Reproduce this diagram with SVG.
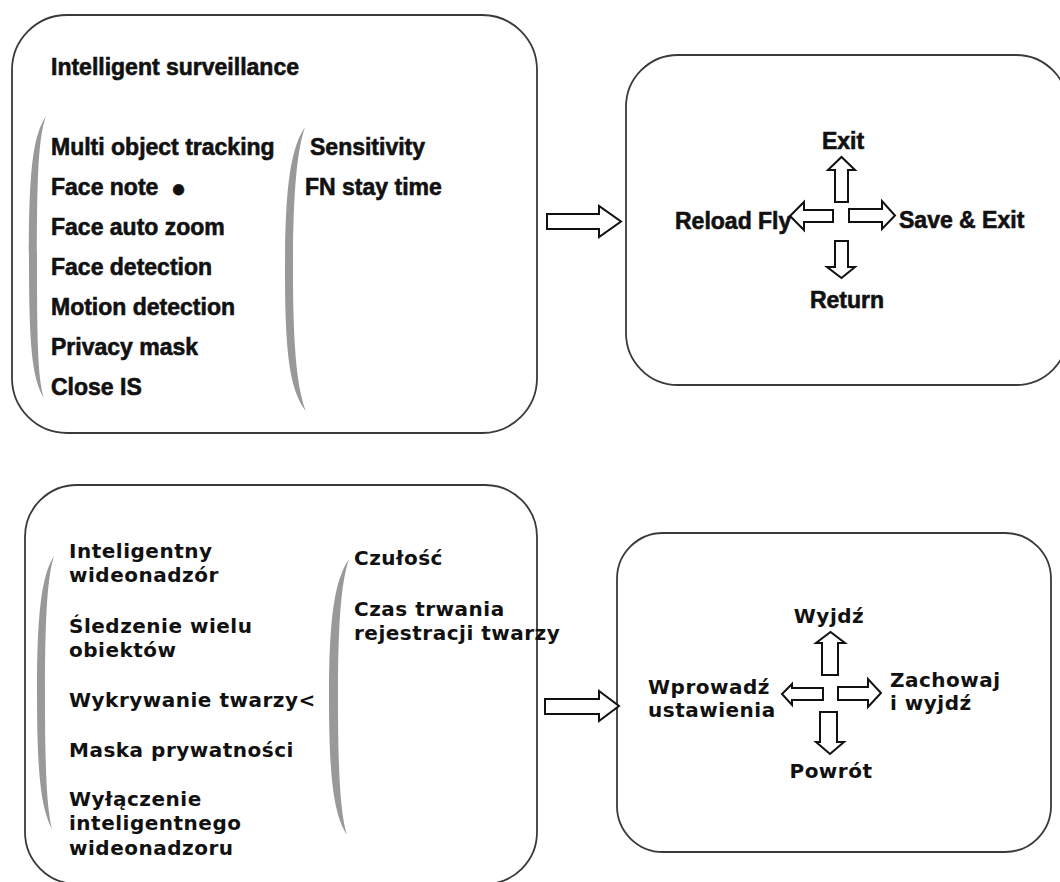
<svg xmlns="http://www.w3.org/2000/svg" width="1060" height="882" viewBox="0 0 1060 882">
  <defs>
    <style>
      .box { fill: #fff; stroke: #3a3a3a; stroke-width: 1.8; }
      .brk { fill: #999; stroke: none; }
      .arr { fill: #fff; stroke: #111; stroke-width: 2; stroke-linejoin: miter; }
      .en { font-family: "Liberation Sans", Arial, sans-serif; font-weight: bold; font-size: 23px; fill: #111; stroke: #111; stroke-width: 0.6px; }
      .pl { font-family: "DejaVu Sans", Verdana, sans-serif; font-weight: bold; font-size: 20px; letter-spacing: 0.5px; fill: #111; }
      .mid { text-anchor: middle; }
    </style>
  </defs>
  <rect width="1060" height="882" fill="#fff"/>

  <g id="node-menu-en">
    <rect class="box" x="12" y="15" width="525" height="418" rx="55" ry="55"/>
    <path class="brk" d="M46,116 C33,136 29,170 29,257 C29,345 32,378 44,398 C38,378 37,345 37,257 C37,170 39,136 46,116 Z"/>
    <path class="brk" d="M305,127 C291,148 285,185 285,269 C285,355 290,390 306,411 C298,390 293,355 293,269 C293,185 298,148 305,127 Z"/>
    <text class="en" x="51" y="75">Intelligent surveillance</text>
    <text class="en" x="51" y="155">Multi object tracking</text>
    <text class="en" x="51" y="195">Face note <tspan x="171" y="197" font-size="25">●</tspan></text>
    <text class="en" x="51" y="235">Face auto zoom</text>
    <text class="en" x="51" y="275">Face detection</text>
    <text class="en" x="51" y="315">Motion detection</text>
    <text class="en" x="51" y="355">Privacy mask</text>
    <text class="en" x="51" y="395">Close IS</text>
    <text class="en" x="310" y="155">Sensitivity</text>
    <text class="en" x="305" y="195">FN stay time</text>
  </g>

  <g id="node-keys-en">
    <rect class="box" x="626" y="55" width="442" height="330" rx="52" ry="52"/>
    <polygon class="arr" points="835,202 835,170 828,170 841.5,157 855,170 848,170 848,202"/>
    <polygon class="arr" points="835,241 835,267 827,267 841.5,278 855,267 848,267 848,241"/>
    <polygon class="arr" points="849,209 882,209 882,201 895,215.5 882,229 882,222 849,222"/>
    <polygon class="arr" points="833,210 804,210 804,202 790,216 804,230 804,222 833,222"/>
    <text class="en mid" x="843" y="149">Exit</text>
    <text class="en" x="675" y="229">Reload Fly</text>
    <text class="en" x="899" y="228">Save &amp; Exit</text>
    <text class="en mid" x="847" y="308">Return</text>
  </g>

  <g id="node-menu-pl">
    <rect class="box" x="25" y="485" width="512" height="399" rx="52" ry="52"/>
    <path class="brk" d="M54,556 C42,575 37,610 37,692 C37,775 41,808 52,829 C47,808 45,775 45,692 C45,610 48,575 54,556 Z"/>
    <path class="brk" d="M349,559 C335,580 329,615 329,697 C329,780 334,815 347,835 C341,815 338,780 338,697 C338,615 342,580 349,559 Z"/>
    <text class="pl" x="69" y="558">Inteligentny</text>
    <text class="pl" x="69" y="582">wideonadzór</text>
    <text class="pl" x="69" y="633">Śledzenie wielu</text>
    <text class="pl" x="69" y="657">obiektów</text>
    <text class="pl" x="69" y="707">Wykrywanie twarzy&lt;</text>
    <text class="pl" x="69" y="757">Maska prywatności</text>
    <text class="pl" x="69" y="806">Wyłączenie</text>
    <text class="pl" x="69" y="830">inteligentnego</text>
    <text class="pl" x="69" y="855">wideonadzoru</text>
    <text class="pl" x="354" y="565">Czułość</text>
    <text class="pl" x="354" y="616">Czas trwania</text>
    <text class="pl" x="354" y="640">rejestracji twarzy</text>
  </g>

  <g id="node-keys-pl">
    <rect class="box" x="617" y="533" width="434" height="319" rx="46" ry="46"/>
    <polygon class="arr" points="822,675 822,643 816,643 830.5,632 845,643 838,643 838,675"/>
    <polygon class="arr" points="820,712 820,742 816,742 830,754 844,742 837,742 837,712"/>
    <polygon class="arr" points="838,687 868,687 868,679 881,693 868,707 868,700 838,700"/>
    <polygon class="arr" points="823,688 792,688 792,684 782,694 792,705 792,700 823,700"/>
    <text class="pl mid" x="829" y="623">Wyjdź</text>
    <text class="pl" x="648" y="694">Wprowadź</text>
    <text class="pl" x="648" y="717">ustawienia</text>
    <text class="pl" x="890" y="687">Zachowaj</text>
    <text class="pl" x="890" y="710">i wyjdź</text>
    <text class="pl mid" x="831" y="778">Powrót</text>
  </g>

  <g id="connectors">
    <polygon class="arr" points="547,214 599,214 599,206 621,221.5 599,237 599,229 547,229"/>
    <polygon class="arr" points="545,699 599,699 599,691 619,706 599,721 599,714 545,714"/>
  </g>
</svg>
